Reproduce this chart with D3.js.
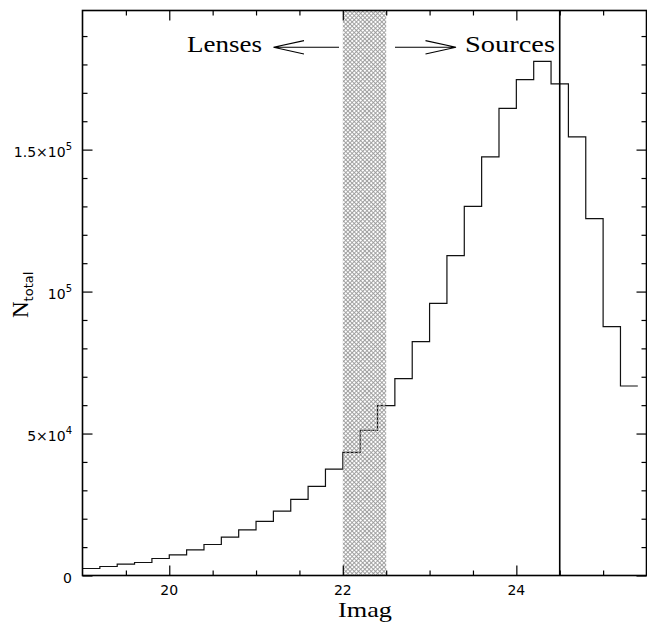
<!DOCTYPE html>
<html><head><meta charset="utf-8">
<script src="https://cdn.jsdelivr.net/npm/d3@7"></script>
<style>body{margin:0;background:#fff}</style>
</head><body><svg id="c" width="647" height="625"></svg>
<script>
// ---- data ----
const binLeft = [19.0,19.2,19.4,19.6,19.8,20.0,20.2,20.4,20.6,20.8,21.0,21.2,21.4,21.6,21.8,22.0,
                 22.2,22.4,22.6,22.8,23.0,23.2,23.4,23.6,23.8,24.0,24.2,24.4,24.6,24.8,25.0,25.2];
const counts  = [2470,3170,4020,4580,5990,7290,9060,10920,13530,16100,19030,22690,26780,31360,37490,43340,
                 51090,59800,69310,82350,95840,112650,130020,147430,164550,174670,181110,173150,154480,125690,87630,66740];
const binWidth = 0.2;
const xMajorTicks = [20, 22, 24];
const xTickLabels = ["20", "22", "24"];
const xMinorTicks = [19.5,20.5,21,21.5,22.5,23,23.5,24.5,25];
const yMajorTicks = [0, 50000, 100000, 150000];
const yTickBase = ["0", "5×10", "10", "1.5×10"];
const yTickSup  = ["", "4", "5", "5"];
const yMinorTicks = [10000,20000,30000,40000,60000,70000,80000,90000,110000,120000,130000,140000,160000,170000,180000,190000];
const lensBand = [22, 22.5];
const magLimit = 24.5;
const xTitle = "Imag";
const yTitleMain = "N", yTitleSub = "total";
const leftLabel = "Lenses", rightLabel = "Sources";

// ---- layout ----
const svg = d3.select("#c");
const L = 82.5, R = 646.5, T = 10.5, B = 575.5;
const x = d3.scaleLinear().domain([19, 25.5]).range([L, R]);
const y = d3.scaleLinear().domain([0, 199000]).range([B, T]);

const defs = svg.append("defs");
const pat = defs.append("pattern").attr("id","hatch").attr("patternUnits","userSpaceOnUse")
  .attr("width",3).attr("height",3).attr("patternTransform","rotate(45)");
pat.append("path").attr("d","M0,0.5H3M0.5,0V3").attr("stroke","#9a9a9a").attr("stroke-width",0.9).attr("fill","none");

// histogram step line
const pts = binLeft.map((b,i)=>[b, counts[i]]);
pts.push([binLeft[binLeft.length-1] + binWidth, counts[counts.length-1]]);
const line = d3.line().x(d=>x(d[0])).y(d=>y(d[1])).curve(d3.curveStepAfter);
svg.append("path").attr("d", line(pts)).attr("fill","none").attr("stroke","#111").attr("stroke-width",1.2);

// hatched band
svg.append("rect").attr("x", x(lensBand[0])).attr("y", T)
  .attr("width", x(lensBand[1]) - x(lensBand[0])).attr("height", B - T)
  .attr("fill","url(#hatch)");

// magnitude limit line
svg.append("line").attr("x1",x(magLimit)).attr("x2",x(magLimit)).attr("y1",T).attr("y2",B)
  .attr("stroke","#000").attr("stroke-width",1.6);

// axes ticks
function ticks(axisFn, vals, size, transform){
  const g = svg.append("g").attr("transform", transform)
    .call(axisFn.tickValues(vals).tickSize(-size).tickFormat(""));
  g.select(".domain").remove();
  g.selectAll("line").attr("stroke","#000").attr("stroke-width",1.2);
}
ticks(d3.axisBottom(x), xMajorTicks, 10, `translate(0,${B})`);
ticks(d3.axisBottom(x), xMinorTicks, 5, `translate(0,${B})`);
ticks(d3.axisTop(x), xMajorTicks, 10, `translate(0,${T})`);
ticks(d3.axisTop(x), xMinorTicks, 5, `translate(0,${T})`);
ticks(d3.axisLeft(y), yMajorTicks, 10, `translate(${L},0)`);
ticks(d3.axisLeft(y), yMinorTicks, 5, `translate(${L},0)`);
ticks(d3.axisRight(y), yMajorTicks, 10, `translate(${R},0)`);
ticks(d3.axisRight(y), yMinorTicks, 5, `translate(${R},0)`);

// frame
svg.append("rect").attr("x",L).attr("y",T).attr("width",R-L).attr("height",B-T)
  .attr("fill","none").attr("stroke","#000").attr("stroke-width",1.6);

// x tick labels
svg.append("g").selectAll("text").data(xMajorTicks).join("text")
  .attr("x", d=>x(d)).attr("y", B+19).attr("text-anchor","middle")
  .attr("font-family","DejaVu Sans").attr("font-size",14).attr("fill","#000")
  .text((d,i)=>xTickLabels[i]);

// y tick labels
const yl = svg.append("g").selectAll("text").data(yMajorTicks).join("text")
  .attr("x", 72).attr("y", d=>y(d)+7).attr("text-anchor","end")
  .attr("font-family","DejaVu Sans").attr("font-size",14).attr("fill","#000");
yl.append("tspan").text((d,i)=>yTickBase[i]);
yl.append("tspan").attr("dy",-7).attr("font-size",10).text((d,i)=>yTickSup[i]);

// axis titles
svg.append("text").attr("x", 338).attr("y", 617).attr("font-family","Liberation Serif")
  .attr("font-size",21).attr("textLength",54).attr("lengthAdjust","spacingAndGlyphs").text(xTitle);
const yt = svg.append("text").attr("transform","translate(28,318) rotate(-90)")
  .attr("font-family","Liberation Serif").attr("font-size",23).attr("fill","#000");
yt.append("tspan").text(yTitleMain);
yt.append("tspan").attr("dy",5).attr("font-family","DejaVu Sans").attr("font-size",13).text(yTitleSub);

// annotations
svg.append("text").attr("x",187).attr("y",52).attr("font-family","Liberation Serif").attr("font-size",23)
  .attr("textLength",75).attr("lengthAdjust","spacingAndGlyphs").text(leftLabel);
svg.append("text").attr("x",465).attr("y",52).attr("font-family","Liberation Serif").attr("font-size",23)
  .attr("textLength",90).attr("lengthAdjust","spacingAndGlyphs").text(rightLabel);
const ay = 47.3;
const arr = svg.append("g").attr("stroke","#000").attr("stroke-width",1.1).attr("fill","none");
arr.append("path").attr("d",`M339,${ay}H273.5M304,${ay-6.7}L273.5,${ay}L304,${ay+6.7}`);
arr.append("path").attr("d",`M395,${ay}H456M425.5,${ay-6.7}L456,${ay}L425.5,${ay+6.7}`);
</script></body></html>
